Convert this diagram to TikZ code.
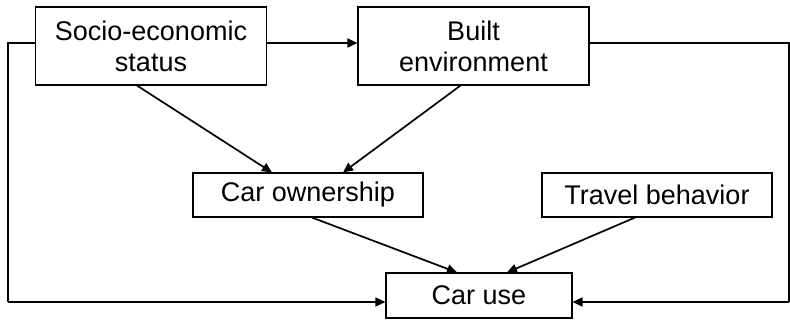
\documentclass[tikz,border=0pt]{standalone}
\usepackage{fontspec}
\setmainfont{Liberation Sans}
\usetikzlibrary{arrows.meta}

\begin{document}
\begin{tikzpicture}[x=1pt, y=-1pt, >={Triangle[length=10pt, width=9pt]},
	every node/.style={font=\fontsize{27}{31}\selectfont},
	factor/.style={draw, line width=1.1pt, align=center, inner sep=0pt},
	link/.style={line width=1.7pt, ->},
	plain/.style={line width=1.1pt}]
	\useasboundingbox (0,0) rectangle (790,320);
	\node[factor, minimum width=231, minimum height=78] (ses) at (151,46) {Socio-economic\\status};
	\node[factor, minimum width=231, minimum height=78] (built) at (473.5,46) {Built\\environment};
	\node[factor, minimum width=230, minimum height=44] (own) at (308,195) {Car ownership};
	\node[factor, minimum width=230, minimum height=44] (travel) at (657,195) {Travel behavior};
	\node[factor, minimum width=186, minimum height=45] (use) at (479,295.5) {Car use};
	\coordinate (lc) at (8,302);
	\coordinate (rc) at (789,302);
	% straight links
	\draw[link] ([yshift=3pt]ses.east) -- ([yshift=3pt]built.west);
	\draw[link] ([xshift=-14pt]ses.south) -- ([xshift=-36pt]own.north);
	\draw[link] ([xshift=-13pt]built.south) -- ([xshift=35pt]own.north);
	\draw[link] ([xshift=4pt]own.south) -- ([xshift=-22pt]use.north);
	\draw[link] ([xshift=-22pt]travel.south) -- ([xshift=28pt]use.north);
	% links round the sides
	\draw[plain] ([yshift=3pt]ses.west) -| (lc);
	\draw[link] (lc) -- ([yshift=-6.5pt]use.west);
	\draw[plain] ([yshift=3pt]built.east) -| (rc);
	\draw[link] (rc) -- ([yshift=-6.5pt]use.east);
\end{tikzpicture}
\end{document}
